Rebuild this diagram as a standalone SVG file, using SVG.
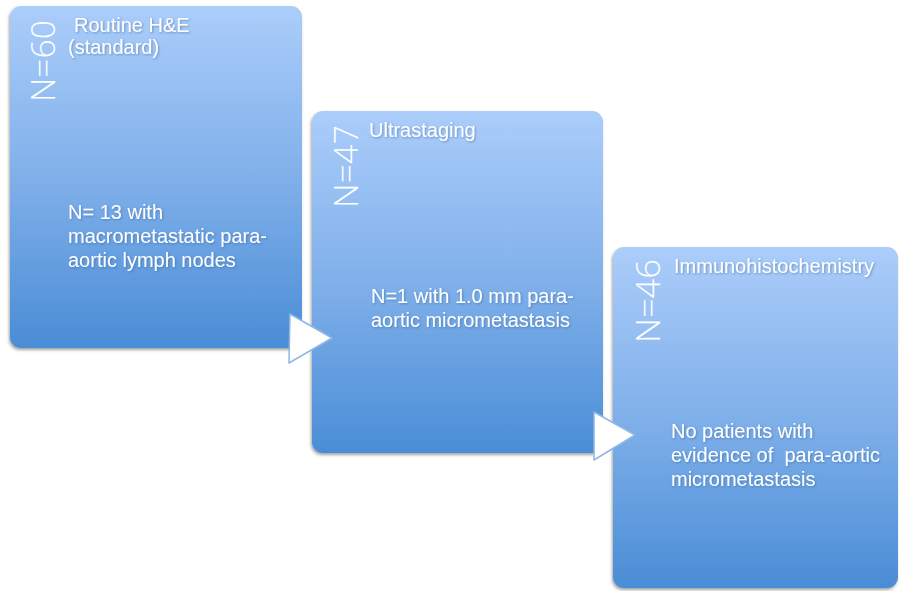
<svg xmlns="http://www.w3.org/2000/svg" width="899" height="591" viewBox="0 0 899 591">
<defs>
<linearGradient id="bg" x1="0" y1="0" x2="0" y2="1">
<stop offset="0" stop-color="#abcdfa"/>
<stop offset="0.5" stop-color="#80b0ea"/>
<stop offset="1" stop-color="#4a8dd6"/>
</linearGradient>
<filter id="sh" x="-5%" y="-5%" width="110%" height="110%">
<feDropShadow dx="-1" dy="2" stdDeviation="1.5" flood-color="#333" flood-opacity="0.45"/>
</filter>
<filter id="tsh" x="-5%" y="-20%" width="110%" height="140%">
<feDropShadow dx="1" dy="1" stdDeviation="1" flood-color="#2a5a90" flood-opacity="0.5"/>
</filter>
</defs>
<style>
.box{fill:url(#bg);filter:url(#sh)}
.t{font-family:"Liberation Sans","Open Sans",Arial,sans-serif;font-size:20px;fill:#ffffff;filter:url(#tsh);white-space:pre}
.n{font-family:"Open Sans","Liberation Sans",Arial,sans-serif;font-weight:300;font-size:33px;fill:#ffffff}
.arr{fill:#ffffff;stroke:#8fb7e6;stroke-width:1.5;stroke-linejoin:round}
</style>
<rect width="899" height="591" fill="#ffffff"/>
<g id="node1">
<rect class="box" x="10" y="6" width="292" height="342" rx="11"/>
<text class="n" transform="translate(55,102) rotate(-90)" textLength="82" lengthAdjust="spacingAndGlyphs">N=60</text>
<text class="t" x="74" y="32">Routine H&amp;E</text>
<text class="t" x="68" y="54">(standard)</text>
<text class="t" x="68" y="219">N= 13 with</text>
<text class="t" x="68" y="243">macrometastatic para-</text>
<text class="t" x="68" y="267">aortic lymph nodes</text>
</g>
<g id="node2">
<rect class="box" x="312" y="111" width="291" height="342" rx="11"/>
<text class="n" transform="translate(358,208) rotate(-90)" textLength="83" lengthAdjust="spacingAndGlyphs">N=47</text>
<text class="t" x="369" y="137">Ultrastaging</text>
<text class="t" x="371" y="303">N=1 with 1.0 mm para-</text>
<text class="t" x="371" y="327">aortic micrometastasis</text>
</g>
<g id="node3">
<rect class="box" x="613" y="247" width="285" height="341" rx="11"/>
<text class="n" transform="translate(660,343) rotate(-90)" textLength="84" lengthAdjust="spacingAndGlyphs">N=46</text>
<text class="t" x="674" y="273">Immunohistochemistry</text>
<text class="t" x="671" y="438">No patients with</text>
<text class="t" x="671" y="462" xml:space="preserve">evidence of  para-aortic</text>
<text class="t" x="671" y="486">micrometastasis</text>
</g>
<g id="connectors">
<polygon class="arr" points="290,314 332,338 289,363"/>
<polygon class="arr" points="594,412 635,435 594,460"/>
</g>
</svg>
